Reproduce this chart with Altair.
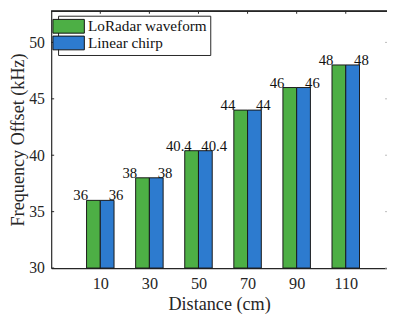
import altair as alt
import pandas as pd

distances = ["10", "30", "50", "70", "90", "110"]
loradar = [36, 38, 40.4, 44, 46, 48]
chirp = [36, 38, 40.4, 44, 46, 48]
series = ["LoRadar waveform", "Linear chirp"]
colors = ["#4DAF45", "#2D7BCF"]
y_ticks = [30, 35, 40, 45, 50]

FONT = "Liberation Serif, Times New Roman, serif"
W, H = 342, 262
XDOM = [0, 6.84]
YDOM = [30, 52.8]
BW = 0.28  # bar width in x units

rows = []
for i, d in enumerate(distances):
    p = i + 1
    rows.append({"pos": p, "x0": p - BW, "x1": p, "series": series[0],
                 "value": loradar[i], "label": f"{loradar[i]:g}"})
    rows.append({"pos": p, "x0": p, "x1": p + BW, "series": series[1],
                 "value": chirp[i], "label": f"{chirp[i]:g}"})
df = pd.DataFrame(rows)

xscale = alt.Scale(domain=XDOM, nice=False, zero=False)
yscale = alt.Scale(domain=YDOM, nice=False, zero=False)
label_expr = "[" + ",".join(f"'{d}'" for d in distances) + "][datum.value-1]"

xaxis = alt.Axis(values=list(range(1, len(distances) + 1)), labelExpr=label_expr,
                 ticks=False, grid=False, domainColor="#262626", domainWidth=1.2,
                 labelFont=FONT, labelFontSize=16.5, labelColor="#262626", labelPadding=8,
                 title="Distance (cm)", titleFont=FONT, titleFontSize=18.5,
                 titleFontWeight="normal", titleColor="#262626", titlePadding=3)
yaxis = alt.Axis(values=y_ticks, ticks=False, grid=False, domainColor="#262626",
                 domainWidth=1.2, labelFont=FONT, labelFontSize=16, labelColor="#262626",
                 labelPadding=7, title="Frequency Offset (kHz)", titleFont=FONT,
                 titleFontSize=18.5, titleFontWeight="normal", titleColor="#262626",
                 titlePadding=1)

legend = alt.Legend(orient="none", legendX=7, legendY=5, title=None,
                    symbolType="M-2.2857,-1H2.2857V1H-2.2857Z", symbolSize=196,
                    symbolStrokeColor="#111111", symbolStrokeWidth=1, symbolOpacity=1,
                    labelFont=FONT, labelFontSize=15.5, labelColor="#111111",
                    labelOffset=12, rowPadding=-3, padding=3,
                    strokeColor="#262626", fillColor="white", cornerRadius=0)

bars = alt.Chart(df).mark_bar(stroke="#1a1a1a", strokeWidth=1, opacity=1).encode(
    x=alt.X("x0:Q", scale=xscale, axis=xaxis),
    x2="x1:Q",
    y=alt.Y("value:Q", scale=yscale, axis=yaxis),
    y2=alt.datum(30),
    color=alt.Color("series:N", scale=alt.Scale(domain=series, range=colors),
                    legend=legend, sort=series),
)

txt_green = alt.Chart(df).transform_filter(alt.datum.series == series[0]).mark_text(
    font=FONT, fontSize=15, color="#111111", baseline="alphabetic", align="center", dx=-20
).encode(x=alt.X("pos:Q", scale=xscale), y=alt.Y("value:Q", scale=yscale), text="label:N")

txt_blue = alt.Chart(df).transform_filter(alt.datum.series == series[1]).mark_text(
    font=FONT, fontSize=15, color="#111111", baseline="alphabetic", align="center", dx=16
).encode(x=alt.X("pos:Q", scale=xscale), y=alt.Y("value:Q", scale=yscale), text="label:N")

tick_df = pd.DataFrame({"v": y_ticks})
pos_df = pd.DataFrame({"p": list(range(1, len(distances) + 1))})

left_ticks = alt.Chart(tick_df).mark_rule(color="#262626").encode(
    y=alt.Y("v:Q", scale=yscale), x=alt.value(0), x2=alt.value(3))
right_ticks = alt.Chart(tick_df).mark_rule(color="#bbbbbb").encode(
    y=alt.Y("v:Q", scale=yscale), x=alt.value(W - 2), x2=alt.value(W))
top_ticks = alt.Chart(pos_df).mark_rule(color="#262626").encode(
    x=alt.X("p:Q", scale=xscale), y=alt.value(0), y2=alt.value(3))
top_border = alt.Chart(pos_df).mark_rule(color="#262626", strokeWidth=1.2).encode(
    x=alt.value(0), x2=alt.value(W), y=alt.value(0.5))

chart = alt.layer(left_ticks, right_ticks, top_ticks, top_border, bars, txt_green, txt_blue).properties(
    width=W, height=H,
    autosize=alt.AutoSizeParams(type="none"),
    padding={"left": 44, "top": 0, "right": 0, "bottom": 48},
).configure_view(stroke=None)

chart.save("out.html", embed_options={"renderer": "svg", "actions": False})
